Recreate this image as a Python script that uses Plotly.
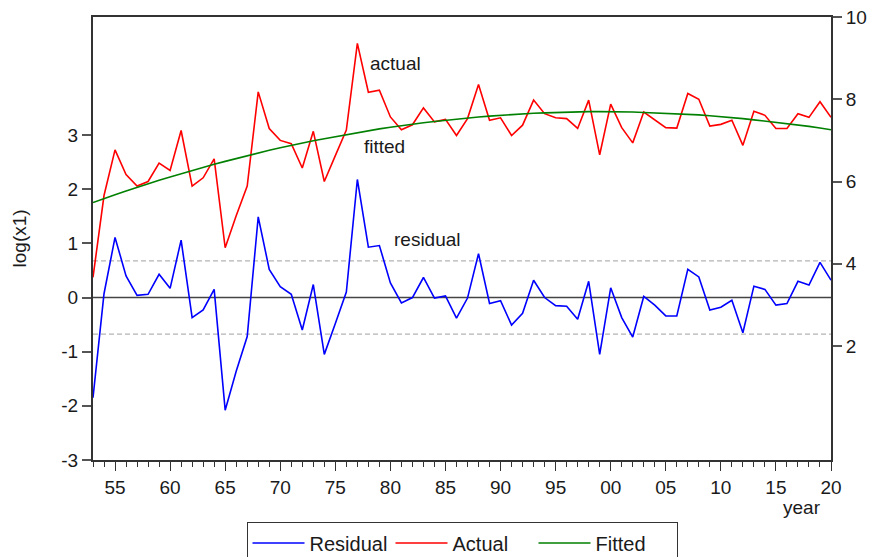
import plotly.graph_objects as go

years = list(range(1953, 2021))

actual = [3.67, 5.66, 6.77, 6.17, 5.89, 6.00, 6.45, 6.27, 7.24, 5.89,
          6.09, 6.55, 4.39, 5.17, 5.89, 8.18, 7.29, 7.00, 6.92, 6.33,
          7.22, 6.00, 6.63, 7.25, 9.36, 8.17, 8.22, 7.57, 7.26, 7.38,
          7.79, 7.45, 7.51, 7.12, 7.53, 8.36, 7.49, 7.55, 7.12, 7.37,
          7.98, 7.65, 7.55, 7.53, 7.29, 7.98, 6.65, 7.88, 7.31, 6.94,
          7.69, 7.51, 7.31, 7.30, 8.14, 8.00, 7.35, 7.39, 7.49, 6.88,
          7.71, 7.61, 7.29, 7.29, 7.65, 7.56, 7.94, 7.56]

fitted = [5.49, 5.59, 5.68, 5.77, 5.86, 5.94, 6.03, 6.11, 6.19, 6.27,
          6.34, 6.42, 6.49, 6.56, 6.63, 6.69, 6.76, 6.82, 6.88, 6.93,
          6.99, 7.04, 7.09, 7.14, 7.19, 7.23, 7.28, 7.32, 7.36, 7.39,
          7.43, 7.46, 7.49, 7.52, 7.55, 7.57, 7.59, 7.61, 7.63, 7.65,
          7.66, 7.67, 7.68, 7.69, 7.69, 7.70, 7.70, 7.70, 7.69, 7.69,
          7.68, 7.67, 7.66, 7.65, 7.63, 7.62, 7.60, 7.58, 7.55, 7.53,
          7.50, 7.47, 7.44, 7.41, 7.37, 7.34, 7.30, 7.26]

residual = [-1.85, 0.07, 1.11, 0.40, 0.04, 0.06, 0.43, 0.17, 1.06, -0.37,
            -0.23, 0.15, -2.08, -1.36, -0.72, 1.49, 0.52, 0.20, 0.06, -0.60,
            0.24, -1.05, -0.48, 0.10, 2.18, 0.93, 0.96, 0.27, -0.10, 0.00,
            0.37, -0.01, 0.03, -0.38, -0.01, 0.81, -0.11, -0.06, -0.51, -0.29,
            0.32, 0.00, -0.15, -0.16, -0.40, 0.30, -1.05, 0.18, -0.37, -0.73,
            0.02, -0.14, -0.34, -0.34, 0.52, 0.38, -0.23, -0.18, -0.05, -0.65,
            0.21, 0.15, -0.14, -0.11, 0.30, 0.23, 0.65, 0.32]

std_err = 0.675

x_tick_vals = list(range(1955, 2021, 5))
x_tick_text = ["55", "60", "65", "70", "75", "80", "85", "90", "95",
               "00", "05", "10", "15", "20"]
left_ticks = [-3, -2, -1, 0, 1, 2, 3]
left_tick_text = ["-3", "-2", "-1", "0", "1", "2", "3"]
right_ticks = [2, 4, 6, 8, 10]
right_tick_text = ["2", "4", "6", "8", "10"]

FONT = "Liberation Sans, Arial, sans-serif"
AX = "#333333"
TXT = "#1a1a1a"

fig = go.Figure()
fig.add_trace(go.Scatter(x=years, y=residual, name="Residual", mode="lines",
                         line=dict(color="#0000FF", width=1.6), yaxis="y"))
fig.add_trace(go.Scatter(x=years, y=actual, name="Actual", mode="lines",
                         line=dict(color="#FF0000", width=1.6), yaxis="y2"))
fig.add_trace(go.Scatter(x=years, y=fitted, name="Fitted", mode="lines",
                         line=dict(color="#008000", width=1.6), yaxis="y2"))

shapes = [
    dict(type="line", xref="paper", x0=0, x1=1, yref="y", y0=0, y1=0,
         line=dict(color="#444444", width=1.4), layer="below"),
    dict(type="line", xref="paper", x0=0, x1=1, yref="y", y0=std_err, y1=std_err,
         line=dict(color="#b4b4b4", width=1.2, dash="5px,3px"), layer="below"),
    dict(type="line", xref="paper", x0=0, x1=1, yref="y", y0=-std_err, y1=-std_err,
         line=dict(color="#b4b4b4", width=1.2, dash="5px,3px"), layer="below"),
]

annotations = [
    dict(text="actual", x=1980.45, y=8.87, xref="x", yref="y2", showarrow=False,
         font=dict(size=19, family=FONT, color=TXT)),
    dict(text="fitted", x=1979.5, y=6.86, xref="x", yref="y2", showarrow=False,
         font=dict(size=19, family=FONT, color=TXT)),
    dict(text="residual", x=1983.4, y=1.07, xref="x", yref="y", showarrow=False,
         font=dict(size=19, family=FONT, color=TXT)),
    dict(text="year", x=1.0, y=-0.108, xref="paper", yref="paper", showarrow=False,
         xanchor="right", yanchor="middle", xshift=-8,
         font=dict(size=19, family=FONT, color=TXT)),
    dict(text="log(x1)", x=-0.099, y=0.5, xref="paper", yref="paper", showarrow=False,
         textangle=-90, xanchor="center", yanchor="middle",
         font=dict(size=19, family=FONT, color=TXT)),
]

fig.update_layout(
    width=869, height=557,
    margin=dict(l=93, r=38, t=17, b=97, autoexpand=False),
    paper_bgcolor="white", plot_bgcolor="white",
    font=dict(family=FONT, size=19, color=TXT),
    showlegend=True,
    legend=dict(orientation="h", x=0.5, xanchor="center", y=-0.141, yanchor="top",
                bordercolor=AX, borderwidth=1, bgcolor="white",
                font=dict(size=20, family=FONT, color=TXT),
                itemwidth=52, entrywidth=76, entrywidthmode="pixels"),
    xaxis=dict(range=[1953, 2020], tickmode="array", tickvals=x_tick_vals,
               ticktext=x_tick_text, ticks="outside", ticklen=9, tickwidth=1.2,
               tickcolor=AX, showline=True, linecolor=AX, linewidth=2, mirror=True,
               showgrid=False, zeroline=False, ticklabelstandoff=0,
               minor=dict(tickmode="linear", tick0=1953, dtick=1, ticks="outside",
                          ticklen=5, tickwidth=1, tickcolor=AX, showgrid=False)),
    yaxis=dict(range=[-3, 5.18], tickmode="array", tickvals=left_ticks,
               ticktext=left_tick_text,
               ticks="outside", ticklen=9, tickwidth=1.5, tickcolor="#555555",
               showline=True, linecolor=AX, linewidth=2, showgrid=False,
               zeroline=False),
    yaxis2=dict(range=[-0.77, 10], overlaying="y", side="right", tickmode="array",
                tickvals=right_ticks, ticktext=right_tick_text,
                ticks="outside", ticklen=9, tickwidth=1.5,
                tickcolor="#555555", showline=True, linecolor=AX, linewidth=2,
                showgrid=False, zeroline=False),
    shapes=shapes,
    annotations=annotations,
)

fig.write_html("out.html")
